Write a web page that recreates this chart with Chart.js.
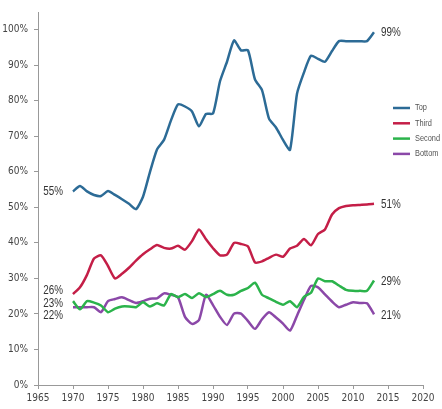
<!DOCTYPE html>
<html lang="en">
<head>
    <meta charset="UTF-8">
    <title>Top / Third / Second / Bottom</title>
    <script src="https://cdn.jsdelivr.net/npm/chart.js"></script>
    <style>
        html, body { margin: 0; padding: 0; background: #fff; }
        #wrap { width: 442px; height: 409px; }
    </style>
</head>
<body>
    <div id="wrap"><canvas id="myChart" width="442" height="409"></canvas></div>

    <script>
        const years = [1970, 1971, 1972, 1973, 1974, 1975, 1976, 1977, 1978, 1979,
            1980, 1981, 1982, 1983, 1984, 1985, 1986, 1987, 1988, 1989,
            1990, 1991, 1992, 1993, 1994, 1995, 1996, 1997, 1998, 1999,
            2000, 2001, 2002, 2003, 2004, 2005, 2006, 2007, 2008, 2009,
            2010, 2011, 2012, 2013];

        const top4 = [54.5, 56, 54.5, 53.5, 53.2, 54.6, 53.5, 52.3, 51, 49.5,
            53, 60, 66.3, 69, 74.5, 79, 78.4, 77, 72.8, 76.3,
            76.4, 85.5, 91, 97, 94.2, 94.2, 86, 83, 75, 72.5,
            69, 66.2, 82, 88, 92.7, 91.8, 91, 94, 96.8, 96.8,
            96.8, 96.8, 96.8, 99.3];

        const third = [25.6, 27.5, 31, 35.6, 36.5, 33.5, 30, 31.3, 33, 35,
            36.8, 38.2, 39.4, 38.6, 38.4, 39.2, 38.1, 40.5, 43.8, 41,
            38.5, 36.5, 36.7, 40, 39.7, 39, 34.5, 34.8, 35.8, 36.7,
            36.1, 38.4, 39.2, 41.1, 39.3, 42.5, 43.8, 48, 49.8, 50.4,
            50.6, 50.7, 50.8, 51];

        const second = [23.6, 21.3, 23.6, 23.2, 22.4, 20.5, 21.5, 22.1, 22.1, 21.9,
            23.3, 22.1, 23, 22.4, 25.6, 24.7, 25.6, 24.5, 25.8, 24.8,
            25.6, 26.5, 25.4, 25.4, 26.5, 27.3, 28.8, 25.4, 24.4, 23.4,
            22.6, 23.6, 21.9, 24.8, 26, 30, 29.2, 29.2, 28, 26.8,
            26.5, 26.5, 26.5, 29.4];

        const bottom = [21.9, 21.9, 21.9, 21.9, 20.5, 23.6, 24.2, 24.7, 23.9, 23.1,
            23.6, 24.3, 24.4, 25.8, 25.4, 24.7, 19.2, 17.2, 18.3, 25.4,
            22.5, 19.2, 16.9, 20.1, 20.1, 18, 15.8, 18.5, 20.5, 19,
            17.3, 15.3, 19.5, 24, 27.9, 27.5, 25.5, 23.5, 21.9, 22.6,
            23.3, 23.1, 23, 19.9];

        const seriesNames = ['Top', 'Third', 'Second', 'Bottom'];
        const seriesColors = ['#2c6b96', '#c41e47', '#2bb34b', '#8b48a8'];

        // labels at the ends of the lines: [y position in %, text]
        const startLabels = [[54.5, '55%'], [26.6, '26%'], [22.8, '23%'], [19.4, '22%']];
        const endLabels = [[99.2, '99%'], [50.7, '51%'], [29, '29%'], [19.4, '21%']];

        const NARROW = '"Liberation Sans Narrow", "DejaVu Sans Condensed", "Liberation Sans", sans-serif';

        const allSeries = [top4, third, second, bottom];
        const datasets = allSeries.map((vals, i) => ({
            label: seriesNames[i],
            data: vals.map((v, j) => ({ x: years[j], y: v })),
            borderColor: seriesColors[i],
            borderWidth: 2.5,
            pointRadius: 0,
            tension: 0.2,
            fill: false
        }));

        // text squeezed sideways, like a narrow font
        function narrowText(ctx, text, x, y, align) {
            ctx.save();
            ctx.translate(x, y);
            ctx.scale(0.82, 1);
            ctx.textAlign = align;
            ctx.fillText(text, 0, 0);
            ctx.restore();
        }

        const labelPlugin = {
            id: 'labels',
            afterDatasetsDraw(chart) {
                const ctx = chart.ctx;
                const xs = chart.scales.x, ys = chart.scales.y;
                ctx.save();
                ctx.font = '12px "Liberation Sans", Arial, sans-serif';
                ctx.fillStyle = '#333';
                ctx.textBaseline = 'middle';
                startLabels.forEach(l => {
                    narrowText(ctx, l[1], xs.getPixelForValue(years[0]) - 10, ys.getPixelForValue(l[0]), 'right');
                });
                endLabels.forEach(l => {
                    narrowText(ctx, l[1], xs.getPixelForValue(years[years.length - 1]) + 7, ys.getPixelForValue(l[0]), 'left');
                });

                // legend
                ctx.font = '9px "Liberation Sans", Arial, sans-serif';
                ctx.fillStyle = '#555';
                const lx = 393, ly = 108;
                seriesNames.forEach((name, i) => {
                    const y = ly + i * 15.3;
                    ctx.strokeStyle = seriesColors[i];
                    ctx.lineWidth = 2.5;
                    ctx.beginPath();
                    ctx.moveTo(lx, y);
                    ctx.lineTo(lx + 17, y);
                    ctx.stroke();
                    narrowText(ctx, name, lx + 22, y, 'left');
                });
                ctx.restore();
            }
        };

        const ctx = document.getElementById('myChart').getContext('2d');
        new Chart(ctx, {
            type: 'line',
            data: { datasets },
            options: {
                responsive: false,
                animation: false,
                layout: { padding: { top: 1, right: 19, left: 0, bottom: 0 } },
                plugins: {
                    legend: { display: false },
                    tooltip: { enabled: false }
                },
                scales: {
                    x: {
                        type: 'linear',
                        min: 1965,
                        max: 2020,
                        ticks: {
                            stepSize: 5,
                            padding: 3,
                            color: '#444',
                            font: { family: NARROW, size: 10 },
                            callback: v => String(v)
                        },
                        grid: { drawOnChartArea: false, tickLength: 4, color: '#999' },
                        border: { color: '#999', width: 1 },
                        afterFit: s => { s.height = 24; }
                    },
                    y: {
                        min: 0,
                        max: 105,
                        afterBuildTicks: s => { s.ticks = s.ticks.filter(t => t.value % 10 === 0); },
                        ticks: {
                            stepSize: 10,
                            padding: 6,
                            color: '#444',
                            font: { family: NARROW, size: 10 },
                            callback: v => v + '%'
                        },
                        grid: { drawOnChartArea: false, tickLength: 4, color: '#999' },
                        border: { color: '#999', width: 1 },
                        afterFit: s => { s.width = 38; }
                    }
                }
            },
            plugins: [labelPlugin]
        });
    </script>
</body>
</html>
